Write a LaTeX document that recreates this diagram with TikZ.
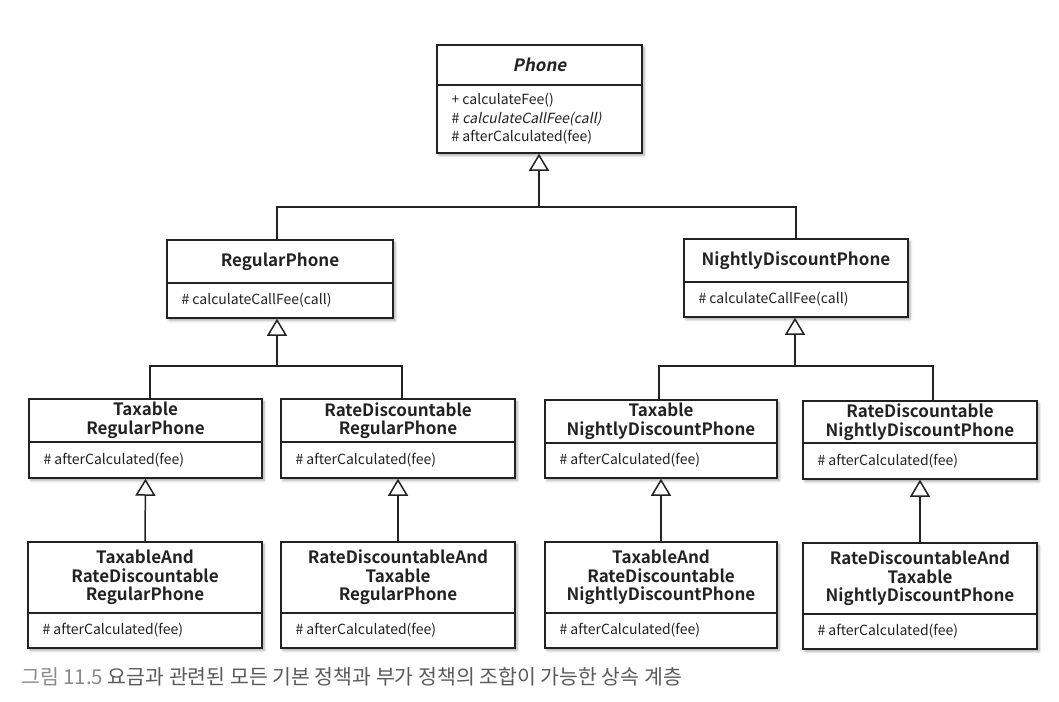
\documentclass[tikz,border=0pt]{standalone}
\usepackage{fontspec}
\setmainfont{Noto Sans CJK KR}[
  BoldFont={Noto Sans CJK KR Bold},
  ItalicFont={Noto Sans CJK KR},
  ItalicFeatures={FakeSlant=0.2},
  BoldItalicFont={Noto Sans CJK KR Bold},
  BoldItalicFeatures={FakeSlant=0.2}]
\usetikzlibrary{arrows.meta,fit,shadows.blur}
\definecolor{ink}{HTML}{222222}
\definecolor{capgray}{HTML}{8A8A8A}
\definecolor{capdark}{HTML}{5A5A5A}
\tikzset{
  boxstyle/.style={draw=ink, line width=1.5pt, fill=white, inner sep=0pt,
    blur shadow={shadow xshift=2pt, shadow yshift=-2.5pt, shadow blur radius=2.5pt, shadow opacity=35}},
  divline/.style={draw=ink, line width=1.2pt},
  titletext/.style={text=ink, align=center, font=\fontsize{17}{18.5}\selectfont\bfseries},
  opstext/.style={text=ink, align=left, anchor=west, font=\fontsize{14}{18.5}\selectfont},
  conn/.style={draw=ink, line width=1.5pt},
  inherit/.style={conn, -{Triangle[open, width=20pt, length=17pt]}},
}
\newcommand\umlbox[8]{%
  \node[boxstyle, fit={(#2,#3) (#4,#6)}] (#1) {};
  \draw[divline] (#2,#5) -- (#4,#5);
  \node[titletext] (#1-t) at ({(#2+#4)/2},{(#3+#5)/2}) {#7};
  \node[opstext] (#1-o) at ({#2+11},{(#5+#6)/2}) {#8};
}
\begin{document}
\begin{tikzpicture}[x=1pt,y=-1pt]
\useasboundingbox (0,0) rectangle (1059,701);

% level 1
\umlbox{phone}{437}{45}{642}{85}{153}{\textit{Phone}}{+ calculateFee()\\\# \textit{calculateCallFee(call)}\\\# afterCalculated(fee)}
% level 2
\umlbox{rp}{167}{240}{393}{283}{318}{RegularPhone}{\# calculateCallFee(call)}
\umlbox{ndp}{684}{239}{908}{282}{317}{NightlyDiscountPhone}{\# calculateCallFee(call)}
% level 3
\umlbox{trp}{29}{399}{262}{442}{478}{Taxable\\RegularPhone}{\# afterCalculated(fee)}
\umlbox{rdrp}{281}{399}{515}{442}{478}{RateDiscountable\\RegularPhone}{\# afterCalculated(fee)}
\umlbox{tndp}{545}{400}{777}{443}{478}{Taxable\\NightlyDiscountPhone}{\# afterCalculated(fee)}
\umlbox{rdndp}{803}{401}{1037}{443}{479}{RateDiscountable\\NightlyDiscountPhone}{\# afterCalculated(fee)}
% level 4
\umlbox{tarp}{28}{542}{262}{613}{648}{TaxableAnd\\RateDiscountable\\RegularPhone}{\# afterCalculated(fee)}
\umlbox{rdtrp}{281}{542}{515}{613}{648}{RateDiscountableAnd\\Taxable\\RegularPhone}{\# afterCalculated(fee)}
\umlbox{tandp}{545}{542}{777}{613}{648}{TaxableAnd\\RateDiscountable\\NightlyDiscountPhone}{\# afterCalculated(fee)}
\umlbox{rdtndp}{803}{543}{1037}{614}{649}{RateDiscountableAnd\\Taxable\\NightlyDiscountPhone}{\# afterCalculated(fee)}

% connectors: Phone group
\coordinate (j0) at (539,207);
\coordinate (j0l) at (277,207);
\coordinate (j0r) at (796,207);
\draw[inherit] (j0) -- (j0 |- phone.south);
\draw[conn] (rp.north -| j0l) |- (j0r) -- (ndp.north -| j0r);

% RegularPhone group
\coordinate (j1) at (277,366);
\coordinate (j1l) at (150,366);
\coordinate (j1r) at (402,366);
\draw[inherit] (j1) -- (j1 |- rp.south);
\draw[conn] (trp.north -| j1l) |- (j1r) -- (rdrp.north -| j1r);

% NightlyDiscountPhone group
\coordinate (j2) at (795,366);
\coordinate (j2l) at (659,366);
\coordinate (j2r) at (933,366);
\draw[inherit] (j2) -- (j2 |- ndp.south);
\draw[conn] (tndp.north -| j2l) |- (j2r) -- (rdndp.north -| j2r);

% level 4 to level 3
\draw[inherit] (tarp.north) -- (trp.south);
\draw[inherit] (rdtrp.north) -- (rdrp.south);
\draw[inherit] (tandp.north) -- (tndp.south);
\draw[inherit] (rdtndp.north) -- (rdndp.south);

% caption
\node[anchor=west, inner sep=0pt, font=\fontsize{20.5}{22}\selectfont] (cap) at (21,677)
  {\textcolor{capgray}{그림 11.5} \textcolor{capdark}{요금과 관련된 모든 기본 정책과 부가 정책의 조합이 가능한 상속 계층}};
\end{tikzpicture}
\end{document}
